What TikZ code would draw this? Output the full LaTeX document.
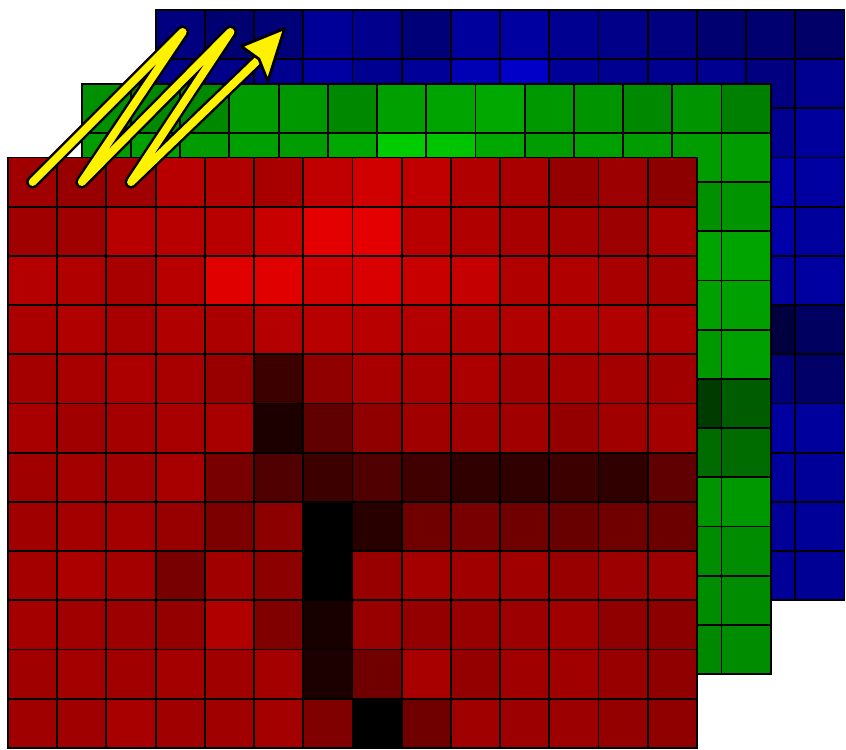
\documentclass[tikz,border=0pt]{standalone}
\usepackage{xcolor}
\usepackage{tikz}
\usetikzlibrary{calc}

\tikzset{
    cell/.style={draw=black, line width=1.1pt},
    zigline/.style={line join=round, line cap=round},
}

\begin{document}
\begin{tikzpicture}
    \useasboundingbox (-0.163,-0.04) rectangle (17.03,15.2);
    % blue layer (back)
    \begin{scope}[shift={(3,3)}]
    \foreach \row [count=\j from 0] in {
        {128,112,120,152,140,120,156,160,144,136,128,112,112,104},
        {136,136,144,160,144,152,180,200,152,144,144,144,128,144},
        {150,150,150,150,150,150,150,150,150,150,150,150,144,156},
        {150,150,150,150,150,150,150,150,150,150,150,150,168,160},
        {150,150,150,150,150,150,150,150,150,150,150,150,168,156},
        {150,150,150,150,150,150,150,150,150,150,150,150,160,160},
        {150,150,150,150,150,150,150,150,150,150,150,150,64,96},
        {150,150,150,150,150,150,150,150,150,150,150,150,120,104},
        {150,150,150,150,150,150,150,150,150,150,150,150,160,156},
        {150,150,150,150,150,150,150,150,150,150,150,150,156,152},
        {150,150,150,150,150,150,150,150,150,150,150,150,152,152},
        {150,150,150,150,150,150,150,150,150,150,150,150,152,148}} {
        \foreach \v [count=\i from 0] in \row {
            \definecolor{cellc}{RGB}{0,0,\v}
            \filldraw[cell, fill=cellc] (\i,11-\j) rectangle ++(1,1);
        }
    }
    \end{scope}
    % green layer
    \begin{scope}[shift={(1.5,1.5)}]
    \foreach \row [count=\j from 0] in {
        {144,136,136,156,152,136,160,164,168,152,148,136,148,128},
        {156,160,156,160,156,168,204,196,168,156,160,156,156,156},
        {150,150,150,150,150,150,150,150,150,150,150,150,144,148},
        {150,150,150,150,150,150,150,150,150,150,150,150,164,164},
        {150,150,150,150,150,150,150,150,150,150,150,150,160,160},
        {150,150,150,150,150,150,150,150,150,150,150,150,152,160},
        {150,150,150,150,150,150,150,150,150,150,150,150,60,92},
        {150,150,150,150,150,150,150,150,150,150,150,150,108,108},
        {150,150,150,150,150,150,150,150,150,150,150,150,148,152},
        {150,150,150,150,150,150,150,150,150,150,150,150,140,140},
        {150,150,150,150,150,150,150,150,150,150,150,150,140,140},
        {150,150,150,150,150,150,150,150,150,150,150,150,136,140}} {
        \foreach \v [count=\i from 0] in \row {
            \definecolor{cellc}{RGB}{0,\v,0}
            \filldraw[cell, fill=cellc] (\i,11-\j) rectangle ++(1,1);
        }
    }
    \end{scope}
    % red layer (front)
    \foreach \row [count=\j from 0] in {
        {160,152,160,184,176,168,192,208,192,176,168,148,156,140},
        {160,160,184,184,184,200,228,228,184,176,168,164,156,168},
        {180,176,168,184,224,224,208,216,200,196,176,176,168,164},
        {172,176,168,176,172,180,184,184,180,176,176,176,176,172},
        {164,168,172,168,152,60,144,168,168,172,160,164,164,160},
        {168,160,164,168,168,28,96,144,160,160,160,148,160,164},
        {160,164,160,168,120,80,60,80,64,48,48,60,48,96},
        {160,164,164,152,124,140,0,40,112,120,112,104,112,108},
        {164,172,164,120,160,140,0,152,164,160,160,152,156,156},
        {164,160,156,148,176,128,24,152,148,152,156,160,144,140},
        {160,164,160,164,160,164,28,112,168,148,160,160,152,144},
        {160,160,168,160,160,164,128,0,112,160,156,156,148,144}} {
        \foreach \v [count=\i from 0] in \row {
            \definecolor{cellc}{RGB}{\v,0,0}
            \filldraw[cell, fill=cellc] (\i,11-\j) rectangle ++(1,1);
        }
    }
    % zigzag arrow
    \coordinate (z0) at (0.5,11.5);
    \coordinate (z1) at (3.55,14.55);
    \coordinate (z2) at (1.5,11.5);
    \coordinate (z3) at (4.52,14.55);
    \coordinate (z4) at (2.5,11.5);
    \coordinate (zend) at (5.1,14.0);
    \coordinate (tip) at (5.62,14.62);
    \coordinate (wingl) at (4.74,14.26);
    \coordinate (wingr) at (5.28,13.55);
    \draw[zigline, black, line width=0.26cm] (z0) -- (z1) -- (z2) -- (z3) -- (z4) -- (zend);
    \draw[zigline, yellow, line width=0.16cm] (z0) -- (z1) -- (z2) -- (z3) -- (z4) -- (zend);
    \filldraw[fill=yellow, draw=black, line width=1.6pt, line join=round]
        (tip) -- (wingl) -- (zend) -- (wingr) -- cycle;
\end{tikzpicture}
\end{document}
